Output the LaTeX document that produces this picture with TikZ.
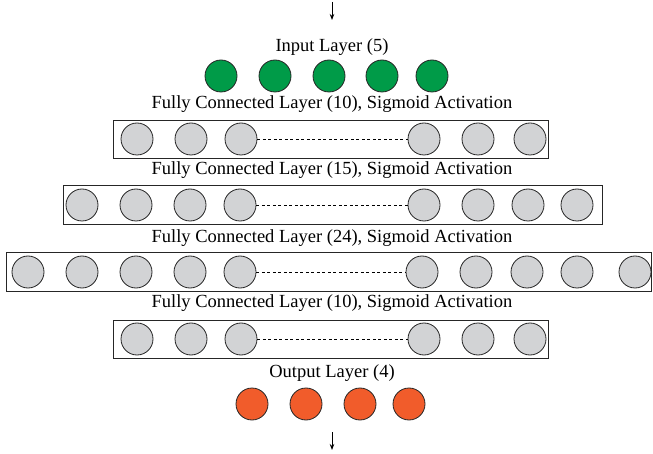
\documentclass[tikz,border=0pt]{standalone}
\usepackage{fontspec}
\setmainfont{Liberation Serif}
\usetikzlibrary{arrows.meta}
\definecolor{ingreen}{RGB}{0,155,72}
\definecolor{outorange}{RGB}{241,92,43}
\definecolor{hidgray}{RGB}{210,211,213}
\begin{document}
\begin{tikzpicture}[x=1pt,y=-1pt,
  neuron/.style={circle,draw=black!85,line width=0.8pt,minimum size=32pt,inner sep=0pt},
  hidden/.style={neuron,fill=hidgray},
  innode/.style={neuron,fill=ingreen},
  outnode/.style={neuron,fill=outorange},
  layerbox/.style={draw=black!85,line width=0.8pt},
  lbl/.style={font=\fontsize{18.5}{21}\selectfont,inner sep=0pt},
  gap/.style={dashed,line width=0.6pt,dash pattern=on 3pt off 2.5pt},
  flow/.style={-{Stealth[length=6pt,width=4.5pt]},line width=0.8pt}]
\useasboundingbox (0,0) rectangle (653,454);

% data flow in and out
\coordinate (inTop) at (332,2);
\coordinate (inBot) at (332,20);
\draw[flow] (inTop) -- (inBot);

% input layer
\node[lbl] (inLbl) at (332,47) {Input Layer (5)};
\foreach \i/\x in {1/221,2/275,3/329,4/382,5/432}
  \node[innode] (in\i) at (\x,76) {};

% hidden layer 1 (10)
\node[lbl] (h1Lbl) at (332,104) {Fully Connected Layer (10), Sigmoid Activation};
\draw[layerbox] (113,120) rectangle (548,158);
\foreach \i/\x in {1/137,2/191,3/241,4/424,5/478,6/530}
  \node[hidden] (ha\i) at (\x,139) {};
\draw[gap] (ha3) -- (ha4);

% hidden layer 2 (15)
\node[lbl] (h2Lbl) at (332,170) {Fully Connected Layer (15), Sigmoid Activation};
\draw[layerbox] (63,185) rectangle (602,224);
\foreach \i/\x in {1/82,2/136,3/190,4/240,5/424,6/478,7/528,8/577}
  \node[hidden] (hb\i) at (\x,205) {};
\draw[gap] (hb4) -- (hb5);

% hidden layer 3 (24)
\node[lbl] (h3Lbl) at (332,238) {Fully Connected Layer (24), Sigmoid Activation};
\draw[layerbox] (6,252) rectangle (651,291);
\foreach \i/\x in {1/28,2/82,3/136,4/190,5/240,6/422,7/476,8/527,9/577,10/635}
  \node[hidden] (hc\i) at (\x,272) {};
\draw[gap] (hc5) -- (hc6);

% hidden layer 4 (10)
\node[lbl] (h4Lbl) at (332,303) {Fully Connected Layer (10), Sigmoid Activation};
\draw[layerbox] (113,320) rectangle (548,358);
\foreach \i/\x in {1/137,2/191,3/241,4/424,5/478,6/530}
  \node[hidden] (hd\i) at (\x,339) {};
\draw[gap] (hd3) -- (hd4);

% output layer
\node[lbl] (outLbl) at (332,373) {Output Layer (4)};
\foreach \i/\x in {1/252,2/306,3/360,4/409}
  \node[outnode] (out\i) at (\x,404) {};

\coordinate (outTop) at (332,432);
\coordinate (outBot) at (332,450);
\draw[flow] (outTop) -- (outBot);
\end{tikzpicture}
\end{document}
